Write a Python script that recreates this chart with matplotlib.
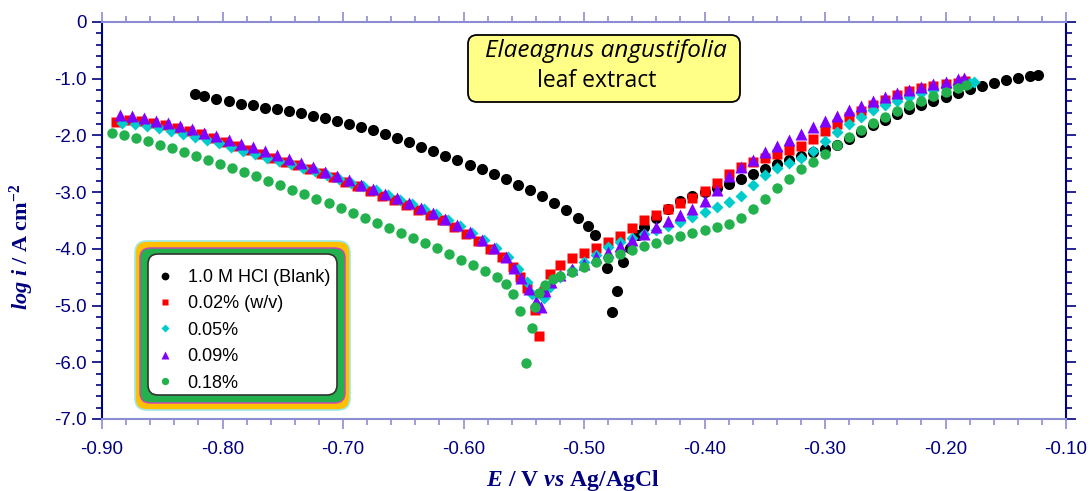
import matplotlib
matplotlib.use('Agg')
import matplotlib.pyplot as plt
from matplotlib.patches import FancyBboxPatch
from matplotlib.transforms import IdentityTransform
from matplotlib.ticker import MultipleLocator, FuncFormatter

plt.rcParams['font.family'] = ['Liberation Sans', 'DejaVu Sans']
plt.rcParams['mathtext.fontset'] = 'custom'
plt.rcParams['mathtext.rm'] = 'Liberation Serif:bold'
plt.rcParams['mathtext.it'] = 'Liberation Serif:italic:bold'
plt.rcParams['mathtext.bf'] = 'Liberation Serif:bold'

# ---- data (E in V, log i) ----
E_blank = [-0.823, -0.815, -0.805, -0.795, -0.785, -0.775, -0.765, -0.755, -0.745, -0.735,
           -0.725, -0.715, -0.705, -0.695, -0.685, -0.675, -0.665, -0.655, -0.645, -0.635,
           -0.625, -0.615, -0.605, -0.595, -0.585, -0.575, -0.565, -0.555, -0.545, -0.535,
           -0.525, -0.515, -0.505, -0.497, -0.491, -0.481, -0.477,
           -0.4725, -0.468, -0.462, -0.455, -0.45, -0.44, -0.43, -0.42, -0.41, -0.40,
           -0.39, -0.38, -0.37, -0.36, -0.35, -0.34, -0.33, -0.32, -0.31, -0.30,
           -0.29, -0.28, -0.27, -0.26, -0.25, -0.24, -0.23, -0.22, -0.21, -0.20,
           -0.19, -0.18, -0.17, -0.16, -0.15, -0.14, -0.13, -0.123]
logi_blank = [-1.27, -1.31, -1.36, -1.40, -1.44, -1.47, -1.51, -1.54, -1.57, -1.61,
              -1.65, -1.70, -1.74, -1.79, -1.85, -1.91, -1.98, -2.05, -2.12, -2.20,
              -2.28, -2.36, -2.44, -2.52, -2.60, -2.68, -2.77, -2.87, -2.96, -3.07,
              -3.19, -3.32, -3.46, -3.60, -3.76, -4.33, -5.11,
              -4.74, -4.23, -3.98, -3.76, -3.62, -3.45, -3.30, -3.16, -3.07, -2.99,
              -2.92, -2.85, -2.76, -2.68, -2.59, -2.50, -2.43, -2.36, -2.30, -2.24,
              -2.16, -2.06, -1.94, -1.82, -1.72, -1.63, -1.54, -1.46, -1.39, -1.32,
              -1.25, -1.18, -1.12, -1.07, -1.03, -0.99, -0.96, -0.93]

E_002 = [-0.888, -0.878, -0.868, -0.858, -0.848, -0.838, -0.828, -0.818, -0.808, -0.798,
         -0.788, -0.778, -0.768, -0.758, -0.748, -0.738, -0.728, -0.718, -0.708, -0.698,
         -0.688, -0.678, -0.668, -0.658, -0.648, -0.638, -0.628, -0.618, -0.608, -0.598,
         -0.588, -0.578, -0.568, -0.559, -0.553, -0.547, -0.541,
         -0.537, -0.533, -0.528, -0.52, -0.51, -0.50, -0.49, -0.48, -0.47, -0.46,
         -0.45, -0.44, -0.43, -0.42, -0.41, -0.40, -0.39, -0.38, -0.37, -0.36,
         -0.35, -0.34, -0.33, -0.32, -0.31, -0.30, -0.29, -0.28, -0.27, -0.26,
         -0.25, -0.24, -0.23, -0.22, -0.21, -0.20, -0.19, -0.184]
logi_002 = [-1.76, -1.72, -1.74, -1.78, -1.82, -1.87, -1.92, -1.98, -2.04, -2.11,
            -2.18, -2.25, -2.32, -2.39, -2.46, -2.53, -2.60, -2.67, -2.74, -2.82,
            -2.90, -2.98, -3.06, -3.14, -3.23, -3.31, -3.40, -3.50, -3.61, -3.73,
            -3.86, -4.00, -4.15, -4.32, -4.50, -4.69, -5.08,
            -5.54, -4.75, -4.45, -4.29, -4.17, -4.08, -3.98, -3.88, -3.77, -3.64,
            -3.50, -3.40, -3.30, -3.20, -3.10, -2.98, -2.84, -2.68, -2.56, -2.47,
            -2.40, -2.33, -2.26, -2.18, -2.06, -1.93, -1.80, -1.68, -1.57, -1.46,
            -1.37, -1.28, -1.22, -1.17, -1.13, -1.10, -1.07, -1.04]

E_005 = [-0.883, -0.873, -0.863, -0.853, -0.843, -0.833, -0.823, -0.813, -0.803, -0.793,
         -0.783, -0.773, -0.763, -0.753, -0.743, -0.733, -0.723, -0.713, -0.703, -0.693,
         -0.683, -0.673, -0.663, -0.653, -0.643, -0.633, -0.623, -0.613, -0.603, -0.593,
         -0.583, -0.573, -0.563, -0.555, -0.547, -0.543, -0.539,
         -0.533, -0.528, -0.52, -0.51, -0.50, -0.49, -0.48, -0.47, -0.46,
         -0.45, -0.44, -0.43, -0.42, -0.41, -0.40, -0.39, -0.38, -0.37, -0.36,
         -0.35, -0.34, -0.33, -0.32, -0.31, -0.30, -0.29, -0.28, -0.27, -0.26,
         -0.25, -0.24, -0.23, -0.22, -0.21, -0.20, -0.19, -0.18, -0.176]
logi_005 = [-1.78, -1.80, -1.83, -1.87, -1.92, -1.97, -2.02, -2.08, -2.14, -2.21,
            -2.27, -2.33, -2.39, -2.45, -2.51, -2.57, -2.63, -2.69, -2.76, -2.83,
            -2.90, -2.97, -3.05, -3.13, -3.21, -3.30, -3.39, -3.49, -3.60, -3.72,
            -3.85, -3.99, -4.15, -4.35, -4.58, -4.80, -4.99,
            -4.87, -4.68, -4.50, -4.38, -4.24, -4.10, -3.97, -3.88, -3.80,
            -3.73, -3.67, -3.60, -3.52, -3.44, -3.35, -3.26, -3.18, -3.07, -2.88,
            -2.70, -2.58, -2.48, -2.40, -2.27, -2.10, -1.94, -1.80, -1.67, -1.56,
            -1.47, -1.39, -1.32, -1.26, -1.20, -1.15, -1.11, -1.07, -1.05]

E_009 = [-0.885, -0.875, -0.865, -0.855, -0.845, -0.835, -0.825, -0.815, -0.805, -0.795,
         -0.785, -0.775, -0.765, -0.755, -0.745, -0.735, -0.725, -0.715, -0.705, -0.695,
         -0.685, -0.675, -0.665, -0.655, -0.645, -0.635, -0.625, -0.615, -0.605, -0.595,
         -0.585, -0.575, -0.565, -0.558, -0.552, -0.546, -0.540,
         -0.536, -0.532, -0.527, -0.52, -0.51, -0.50, -0.49, -0.48, -0.47, -0.46,
         -0.45, -0.44, -0.43, -0.42, -0.41, -0.40, -0.39, -0.38, -0.37, -0.36,
         -0.35, -0.34, -0.33, -0.32, -0.31, -0.30, -0.29, -0.28, -0.27, -0.26,
         -0.25, -0.24, -0.23, -0.22, -0.21, -0.20, -0.19, -0.185]
logi_009 = [-1.64, -1.66, -1.70, -1.74, -1.78, -1.83, -1.89, -1.95, -2.01, -2.08,
            -2.15, -2.21, -2.28, -2.35, -2.42, -2.49, -2.56, -2.64, -2.71, -2.79,
            -2.87, -2.95, -3.03, -3.11, -3.20, -3.28, -3.37, -3.47, -3.58, -3.70,
            -3.84, -3.98, -4.15, -4.33, -4.52, -4.70, -4.92,
            -5.03, -4.75, -4.58, -4.46, -4.35, -4.26, -4.15, -4.05, -3.95, -3.84,
            -3.73, -3.62, -3.51, -3.41, -3.30, -3.16, -2.96, -2.72, -2.56, -2.43,
            -2.30, -2.19, -2.08, -1.97, -1.86, -1.75, -1.65, -1.56, -1.48, -1.40,
            -1.33, -1.26, -1.20, -1.15, -1.10, -1.05, -1.01, -0.98]

E_018 = [-0.892, -0.882, -0.872, -0.862, -0.852, -0.842, -0.832, -0.822, -0.812, -0.802,
         -0.792, -0.782, -0.772, -0.762, -0.752, -0.742, -0.732, -0.722, -0.712, -0.702,
         -0.692, -0.682, -0.672, -0.662, -0.652, -0.642, -0.632, -0.622, -0.612, -0.602,
         -0.592, -0.582, -0.572, -0.565, -0.559, -0.553, -0.548,
         -0.543, -0.541, -0.537, -0.532, -0.526, -0.52, -0.51, -0.50, -0.49, -0.48,
         -0.47, -0.46, -0.45, -0.44, -0.43, -0.42, -0.41, -0.40, -0.39, -0.38,
         -0.37, -0.36, -0.35, -0.34, -0.33, -0.32, -0.31, -0.30, -0.29, -0.28,
         -0.27, -0.26, -0.25, -0.24, -0.23, -0.22, -0.21, -0.20, -0.19, -0.183]
logi_018 = [-1.96, -2.00, -2.05, -2.10, -2.16, -2.22, -2.29, -2.36, -2.43, -2.50,
            -2.57, -2.64, -2.72, -2.80, -2.88, -2.96, -3.04, -3.12, -3.20, -3.28,
            -3.37, -3.45, -3.54, -3.63, -3.72, -3.81, -3.90, -3.99, -4.09, -4.19,
            -4.29, -4.39, -4.50, -4.62, -4.80, -5.10, -6.01,
            -5.40, -5.03, -4.78, -4.64, -4.53, -4.47, -4.40, -4.32, -4.24, -4.17,
            -4.09, -4.02, -3.95, -3.89, -3.83, -3.77, -3.72, -3.67, -3.62, -3.56,
            -3.46, -3.30, -3.12, -2.93, -2.76, -2.60, -2.46, -2.32, -2.16, -2.02,
            -1.90, -1.78, -1.67, -1.57, -1.47, -1.39, -1.31, -1.24, -1.17, -1.11]

labels = ['1.0 M HCl (Blank)', '0.02% (w/v)', '0.05%', '0.09%', '0.18%']

W, H = 1090, 491
NAVY = '#000080'
LIGHT = '#8c8cd2'

fig = plt.figure(figsize=(W / 100, H / 100), dpi=100)
ax = fig.add_axes([102 / W, 1 - 419 / H, (1066 - 102) / W, (419 - 22) / H])

ax.plot(E_blank, logi_blank, ls='none', marker='o', ms=8, color='black', mec='none', label=labels[0])
ax.plot(E_002, logi_002, ls='none', marker='s', ms=7, color='#ff0000', mec='none', label=labels[1])
ax.plot(E_005, logi_005, ls='none', marker='D', ms=6.5, color='#00cccc', mec='none', label=labels[2])
ax.plot(E_009, logi_009, ls='none', marker='^', ms=8.5, color='#8000ff', mec='none', label=labels[3])
ax.plot(E_018, logi_018, ls='none', marker='o', ms=7.5, color='#22b14c', mec='none', label=labels[4])

ax.set_xlim(-0.90, -0.10)
ax.set_ylim(-7.0, 0)
ax.xaxis.set_major_locator(MultipleLocator(0.1))
ax.xaxis.set_minor_locator(MultipleLocator(0.02))
ax.yaxis.set_major_locator(MultipleLocator(1.0))
ax.yaxis.set_minor_locator(MultipleLocator(0.2))
ax.xaxis.set_major_formatter(FuncFormatter(lambda v, p: '%.2f' % v))
ax.yaxis.set_major_formatter(FuncFormatter(lambda v, p: '0' if abs(v) < 1e-9 else '%.1f' % v))

ax.tick_params(which='both', direction='out', top=True, right=True,
               labeltop=False, labelright=False, labelsize=13.5, labelcolor=NAVY, width=1.2)
ax.tick_params(which='major', length=7)
ax.tick_params(which='minor', length=4)
ax.tick_params(axis='x', which='both', color=LIGHT, pad=9)
ax.tick_params(axis='y', which='both', color=NAVY, pad=4)
for s in ['left', 'right']:
    ax.spines[s].set_color(NAVY)
    ax.spines[s].set_linewidth(1.5)
for s in ['top', 'bottom']:
    ax.spines[s].set_color(LIGHT)
    ax.spines[s].set_linewidth(1.5)

ax.set_xlabel(r'$\mathit{E}\ /\ \mathrm{V}\ \mathit{vs}\ \mathrm{Ag/AgCl}$', fontsize=17, color=NAVY)
ax.set_ylabel(r'$\mathit{log\ i}\ /\ \mathrm{A\ cm}^{-2}$', fontsize=16, color=NAVY)
ax.xaxis.set_label_coords((573 - 102) / 964, (419 - 468) / 397)
ax.yaxis.set_label_coords((36 - 102) / 964, (419 - 247) / 397)

px = IdentityTransform()

# title box
ax.add_artist(FancyBboxPatch((468, H - 102), 272, 67, boxstyle='round,pad=0,rounding_size=9',
                             transform=px, fc='#ffff88', ec='black', lw=1.3, clip_on=False, zorder=4))
ax.text(606, H - 51, 'Elaeagnus angustifolia', transform=px, ha='center', va='center',
        fontsize=17.5, style='italic', family='Open Sans', zorder=5)
ax.text(597, H - 81, 'leaf extract', transform=px, ha='center', va='center',
        fontsize=16.5, family='Open Sans', zorder=5)

# legend frame layers
ax.add_artist(FancyBboxPatch((135, H - 410), 215, 169, boxstyle='round,pad=0,rounding_size=12',
                             transform=px, fc='#ffc000', ec='#9ee8e8', lw=1.2, clip_on=False, zorder=6))
ax.add_artist(FancyBboxPatch((140, H - 403), 205, 155, boxstyle='round,pad=0,rounding_size=10',
                             transform=px, fc='#22b14c', ec='#d040c0', lw=1.0, clip_on=False, zorder=6))
ax.add_artist(FancyBboxPatch((148, H - 395), 189, 141, boxstyle='round,pad=0,rounding_size=10',
                             transform=px, fc='white', ec='#333333', lw=1.2, clip_on=False, zorder=6))
leg = ax.legend(loc='upper left', bbox_to_anchor=(157, H - 269), bbox_transform=px, frameon=False,
                fontsize=13, handlelength=0.9, handletextpad=0.8, labelspacing=0.52,
                borderaxespad=0, borderpad=0, markerscale=0.7)
leg.set_zorder(10)

fig.savefig('out.png', dpi=100)
